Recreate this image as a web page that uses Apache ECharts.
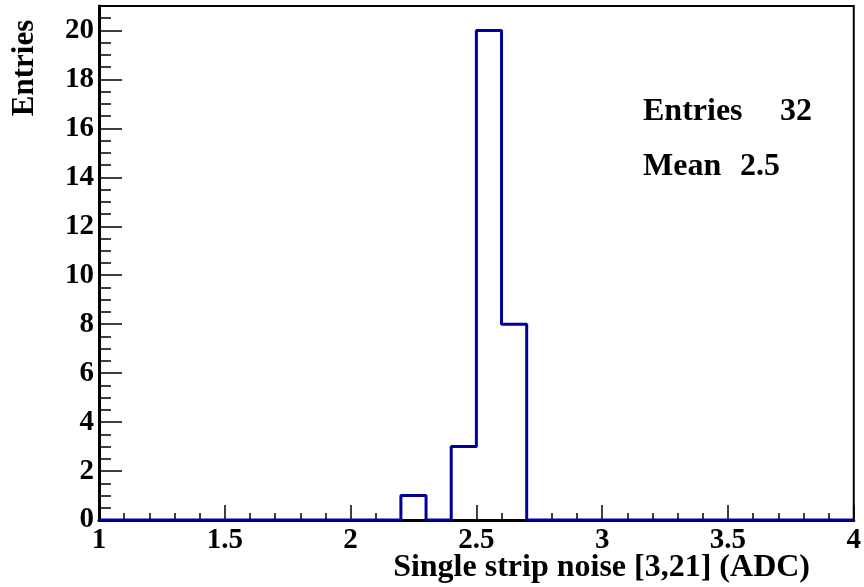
<!DOCTYPE html>
<html>
<head>
<meta charset="utf-8">
<script src="https://cdn.jsdelivr.net/npm/echarts@6/dist/echarts.min.js"></script>
<style>
html,body{margin:0;padding:0;background:#fff;}
#c{width:864px;height:587px;}
</style>
</head>
<body>
<div id="c"></div>
<script>
// Histogram: 30 bins of width 0.1 from 1 to 4
const binLow = 1.0;
const binWidth = 0.1;
const counts = [0,0,0,0,0,0,0,0,0,0, 0,0,1,0,3,20,8,0,0,0, 0,0,0,0,0,0,0,0,0,0];
const xTitle = "Single strip noise [3,21] (ADC)";
const yTitle = "Entries";
const statNames = ["Entries", "Mean"];
const statValues = ["32", "2.5"];

const FONT = "'Liberation Serif', 'DejaVu Serif', serif";
const edges = counts.map((_, i) => +(binLow + i * binWidth).toFixed(2));
const stepData = counts.map((c, i) => [edges[i], c]);
stepData.push([+(binLow + counts.length * binWidth).toFixed(2), counts[counts.length - 1]]);

const chart = echarts.init(document.getElementById('c'), null, {renderer: 'canvas'});
chart.setOption({
  animation: false,
  backgroundColor: '#fff',
  grid: {left: 99, right: 5, top: 6, bottom: 67, show: true, borderColor: '#000', borderWidth: 2, backgroundColor: 'transparent'},
  xAxis: {
    type: 'value', min: 1, max: 4, interval: 0.5,
    axisLine: {show: true, lineStyle: {color: '#000', width: 3}},
    axisTick: {show: true, inside: true, length: 15, lineStyle: {color: '#000', width: 1.5}},
    minorTick: {show: true, splitNumber: 5, length: 7, lineStyle: {color: '#000', width: 1.5}},
    splitLine: {show: false},
    minorSplitLine: {show: false},
    axisLabel: {color: '#000', fontFamily: FONT, fontWeight: 'bold', fontSize: 29, margin: 6}
  },
  yAxis: [{
    type: 'value', min: 0, max: 21, interval: 2,
    axisLine: {show: true, lineStyle: {color: '#000', width: 3}},
    axisTick: {show: true, inside: true, length: 23, lineStyle: {color: '#000', width: 1.5}},
    splitLine: {show: false},
    axisLabel: {color: '#000', fontFamily: FONT, fontWeight: 'bold', fontSize: 29, margin: 5, showMaxLabel: false}
  }, {
    type: 'value', min: 0, max: 21, interval: 0.5, position: 'left',
    axisLine: {show: false},
    axisTick: {show: true, inside: true, length: 12, lineStyle: {color: '#000', width: 1.5}},
    splitLine: {show: false},
    axisLabel: {show: false}
  }],
  series: [{
    type: 'line', step: 'end', data: stepData, yAxisIndex: 0,
    symbol: 'none', clip: false, z: 10,
    lineStyle: {color: '#000099', width: 3}
  }],
  graphic: [
    {type: 'text', x: 25, y: 68, rotation: Math.PI / 2, z: 100,
     style: {text: yTitle, fill: '#000', font: "bold 31px " + FONT, align: 'center', verticalAlign: 'middle'}},
    {type: 'text', x: 810, y: 568, z: 100,
     style: {text: xTitle, fill: '#000', font: "bold 32px " + FONT, align: 'right', verticalAlign: 'middle'}},
    {type: 'text', x: 643, y: 112, z: 100,
     style: {text: statNames[0], fill: '#000', font: "bold 32px " + FONT, align: 'left', verticalAlign: 'middle'}},
    {type: 'text', x: 812, y: 112, z: 100,
     style: {text: statValues[0], fill: '#000', font: "bold 32px " + FONT, align: 'right', verticalAlign: 'middle'}},
    {type: 'text', x: 643, y: 167, z: 100,
     style: {text: statNames[1], fill: '#000', font: "bold 32px " + FONT, align: 'left', verticalAlign: 'middle'}},
    {type: 'text', x: 740, y: 167, z: 100,
     style: {text: statValues[1], fill: '#000', font: "bold 32px " + FONT, align: 'left', verticalAlign: 'middle'}}
  ]
});
</script>
</body>
</html>
